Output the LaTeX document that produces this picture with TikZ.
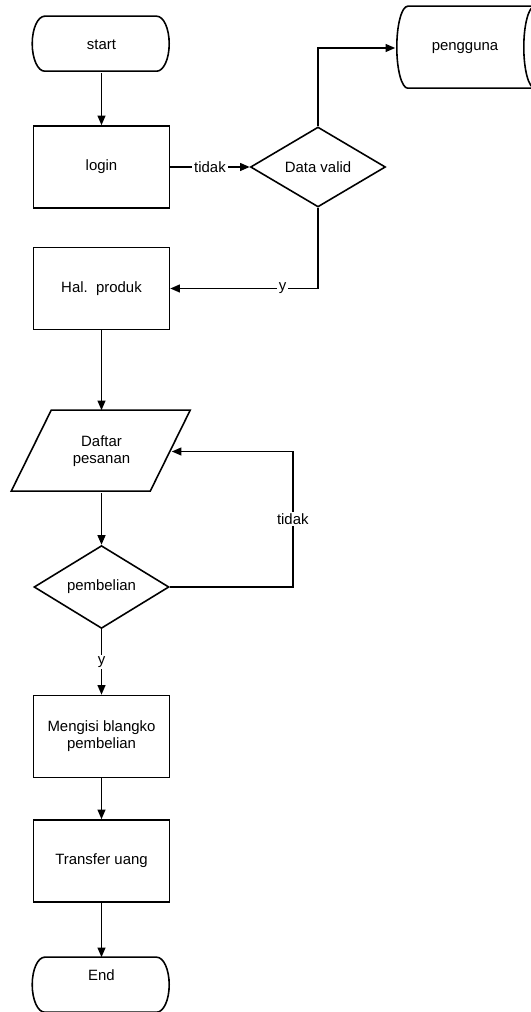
\documentclass[tikz,border=0pt]{standalone}
\usepackage{fontspec}
\setmainfont{Liberation Sans}
\usetikzlibrary{shapes.geometric,arrows.meta}

\begin{document}
\begin{tikzpicture}[scale=0.2, line width=0.9pt, font=\fontsize{8.5}{9.8}\selectfont]
\tikzstyle{every node}+=[inner sep=0pt]
\tikzstyle{proc}=[draw, rectangle, minimum width=2.72cm, minimum height=1.64cm, align=center]
\tikzstyle{decision}=[draw, diamond, minimum width=2.7cm, minimum height=1.6cm]
\tikzstyle{termbox}=[rectangle, minimum width=2.74cm, minimum height=1.1cm]
\tikzstyle{flow}=[-{Triangle[length=5.5pt,width=4.5pt]}]
\tikzstyle{lbl}=[fill=white, inner sep=1pt]
\useasboundingbox (0,0) rectangle (53.1,-101.2);
% nodes
\node [termbox] (start) at (10.15,-4.45) {start};
\node [proc] (login) at (10.15,-16.7) {login};
\node [decision] (valid) at (31.8,-16.7) {Data valid};
\node [rectangle, minimum width=2.76cm, minimum height=1.64cm] (pengguna) at (46.5,-4.8) {pengguna};
\node [proc] (produk) at (10.15,-28.85) {Hal.\ \ produk};
\node [rectangle, minimum width=2.78cm, minimum height=1.62cm, align=center] (daftar) at (10.15,-45.15) {Daftar\\pesanan};
\node [decision] (beli) at (10.15,-58.7) {pembelian};
\node [proc] (blangko) at (10.15,-73.65) {Mengisi blangko\\pembelian};
\node [proc] (transfer) at (10.15,-86.1) {Transfer uang};
\node [termbox] (stop) at (10.15,-98.55) {\raisebox{1mm}[0pt][0pt]{End}};
% outlines
\draw (start.north west) ++(1.25,0) -- ++(11.2,0) arc[start angle=90, end angle=-90, x radius=1.25, y radius=2.75] -- ++(-11.2,0) arc[start angle=270, end angle=90, x radius=1.25, y radius=2.75] -- cycle;
\draw (stop.north west) ++(1.25,0) -- ++(11.2,0) arc[start angle=90, end angle=-90, x radius=1.25, y radius=2.75] -- ++(-11.2,0) arc[start angle=270, end angle=90, x radius=1.25, y radius=2.75] -- cycle;
\draw (pengguna.north east) -- ++(-12.7,0) arc[start angle=90, end angle=270, x radius=1.1, y radius=4.1] -- ++(12.7,0) arc[start angle=270, end angle=90, x radius=1.1, y radius=4.1];
\draw (daftar.north west) ++(2,0) -- ++(13.9,0) -- ++(-4,-8.1) -- ++(-13.9,0) -- cycle;
% connectors
\draw [flow] (start.south) -- (login.north);
\draw [flow] (login.east) -- node [lbl] {tidak} (valid.west);
\draw [flow] (valid.north) |- (pengguna.west);
\draw [flow] (valid.south) |- node [lbl, pos=0.62] {y} (produk.east);
\draw [flow] (produk.south) -- (daftar.north);
\draw [flow] (daftar.south) -- (beli.north);
\draw [flow] (beli.east) -- ++(12.3,0) |- node [lbl, pos=0.25] {tidak} (daftar.east);
\draw [flow] (beli.south) -- node [lbl] {y} (blangko.north);
\draw [flow] (blangko.south) -- (transfer.north);
\draw [flow] (transfer.south) -- (stop.north);
\end{tikzpicture}
\end{document}
